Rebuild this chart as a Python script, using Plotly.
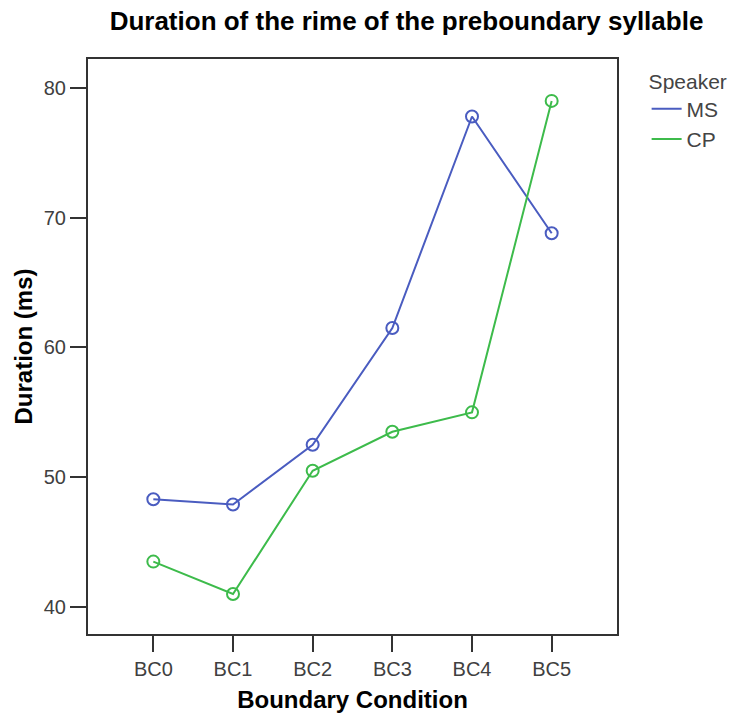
import plotly.graph_objects as go

categories = ["BC0", "BC1", "BC2", "BC3", "BC4", "BC5"]
ms_values = [48.3, 47.9, 52.5, 61.5, 77.8, 68.8]
cp_values = [43.5, 41.0, 50.5, 53.5, 55.0, 79.0]
y_ticks = [40, 50, 60, 70, 80]
series_names = ["MS", "CP"]

BLUE = "#4a5cc0"
GREEN = "#3dbb4b"
FONT = "Liberation Sans, Arial, sans-serif"

fig = go.Figure()
for name, vals, col in [(series_names[0], ms_values, BLUE), (series_names[1], cp_values, GREEN)]:
    fig.add_trace(go.Scatter(
        x=categories, y=vals, mode="lines+markers", name=name,
        line=dict(color=col, width=2),
        marker=dict(symbol="circle-open", size=12, color=col, line=dict(width=2, color=col)),
        showlegend=False,
    ))
    # legend entry drawn as a line only
    fig.add_trace(go.Scatter(
        x=[None], y=[None], mode="lines", name=name,
        line=dict(color=col, width=2), showlegend=True,
    ))

W, H = 739, 716
L, R, T, B = 88, 739 - 617, 59, 716 - 634

fig.update_layout(
    width=W, height=H,
    margin=dict(l=L, r=R, t=T, b=B, pad=0, autoexpand=False),
    paper_bgcolor="white", plot_bgcolor="white",
    font=dict(family=FONT, size=20, color="#333333"),
    title=dict(
        text="<b>Duration of the rime of the preboundary syllable</b>",
        font=dict(family=FONT, size=26, color="#000000"),
        xref="container", x=406.5 / W, xanchor="center",
        yref="container", y=1 - 21 / H, yanchor="middle",
    ),
    xaxis=dict(
        type="category", range=[-0.82, 5.82], automargin=False,
        showline=True, linecolor="#333333", linewidth=2, mirror=True,
        ticks="outside", ticklen=16, tickwidth=2, tickcolor="#333333",
        showgrid=False, zeroline=False,
        tickfont=dict(size=20, color="#404040"),
        title=dict(text="<b>Boundary Condition</b>", font=dict(size=24, color="#000000"), standoff=12),
    ),
    yaxis=dict(
        range=[37.92, 82.23], tickvals=y_ticks, automargin=False,
        showline=True, linecolor="#333333", linewidth=2, mirror=True,
        ticks="outside", ticklen=16, tickwidth=2, tickcolor="#333333",
        showgrid=False, zeroline=False,
        tickfont=dict(size=20, color="#404040"),
        title=dict(text="<b>Duration (ms)</b>", font=dict(size=24, color="#000000"), standoff=4),
    ),
    legend=dict(
        title=dict(text="Speaker", font=dict(size=21, color="#444444")),
        font=dict(size=21, color="#444444"),
        x=1.056, xanchor="left", y=0.996, yanchor="top",
        bgcolor="rgba(0,0,0,0)", itemwidth=30,
    ),
)

fig.write_html(
    "out.html",
    config={"displayModeBar": False},
    post_script="document.body.style.margin='0';document.body.style.padding='0';",
)
